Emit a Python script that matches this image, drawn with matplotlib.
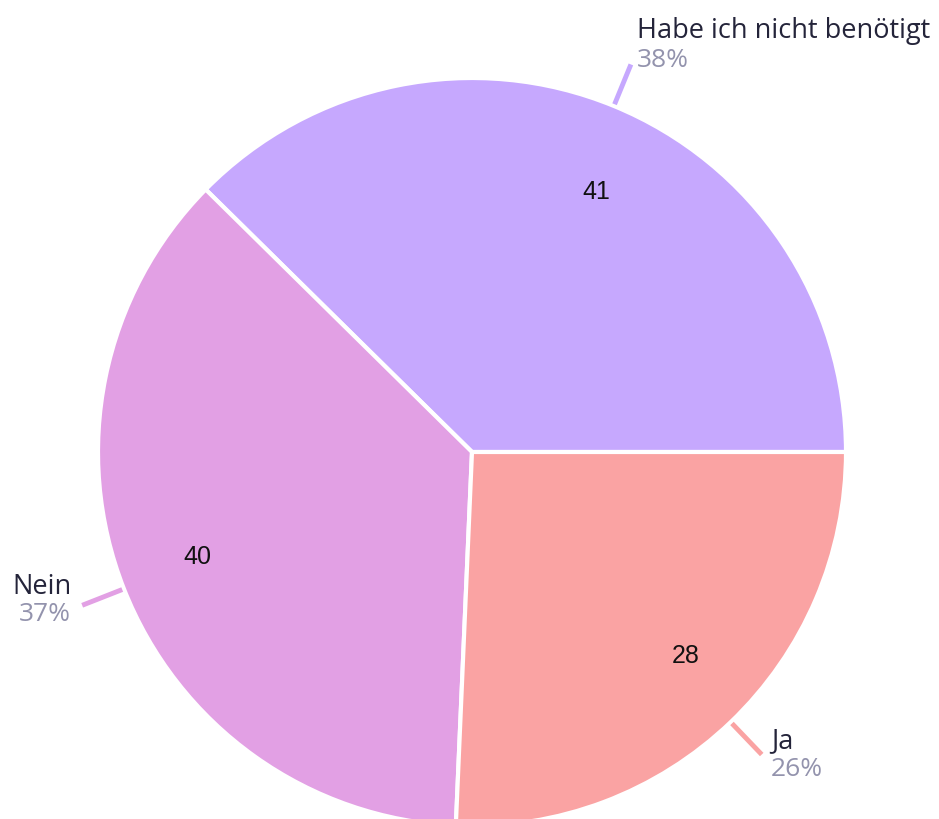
import matplotlib.pyplot as plt
import numpy as np

labels = ['Habe ich nicht benötigt', 'Nein', 'Ja']
values = [41, 40, 28]
colors = ['#C6A8FE', '#E2A0E4', '#FAA3A3']

W, H = 939, 819
fig = plt.figure(figsize=(W / 100, H / 100), dpi=100)
ax = fig.add_axes([0, 0, 1, 1])

cx, cy, r = 472, H - 452, 374
wedges, texts = ax.pie(values, colors=colors, startangle=0, counterclock=True,
                       center=(cx, cy), radius=r, frame=True,
                       wedgeprops=dict(edgecolor='white', linewidth=3))
ax.set_xlim(0, W)
ax.set_ylim(0, H)
ax.set_aspect('equal')
ax.axis('off')

total = sum(values)
font = ['Open Sans', 'DejaVu Sans']
# inner value label placement: (angle shift in degrees, radius fraction)
inner_cfg = [(-3.3, 0.77), (-0.5, 0.787), (2.5, 0.79)]
# (ha, dx, name dy, pct dy) relative to the end of the leader line
label_cfg = [('left', 6, 33, 4), ('right', -11, 18, -9), ('left', 9, 13, -15)]
for w, v, lab, c, icfg, cfg in zip(wedges, values, labels, colors, inner_cfg, label_cfg):
    mid_deg = (w.theta1 + w.theta2) / 2
    mid = np.deg2rad(mid_deg)
    a = np.deg2rad(mid_deg + icfg[0])
    ax.text(cx + icfg[1] * r * np.cos(a), cy + icfg[1] * r * np.sin(a), str(v),
            ha='center', va='center', fontsize=18, color='#111111',
            family=['Liberation Sans', 'DejaVu Sans'])
    # leader line
    x0, y0 = cx + 1.005 * r * np.cos(mid), cy + 1.005 * r * np.sin(mid)
    x1, y1 = cx + 1.12 * r * np.cos(mid), cy + 1.12 * r * np.sin(mid)
    ax.plot([x0, x1], [y0, y1], color=c, linewidth=3.5, solid_capstyle='butt')
    ha, dx, dyn, dyp = cfg
    pct = round(100 * v / total)
    ax.text(x1 + dx, y1 + dyn, lab, ha=ha, va='center', fontsize=19.5,
            color='#24243a', family=font)
    ax.text(x1 + dx, y1 + dyp, f'{pct}%', ha=ha, va='center', fontsize=19,
            color='#9393ad', family=font)

fig.savefig('out.png', dpi=100)
